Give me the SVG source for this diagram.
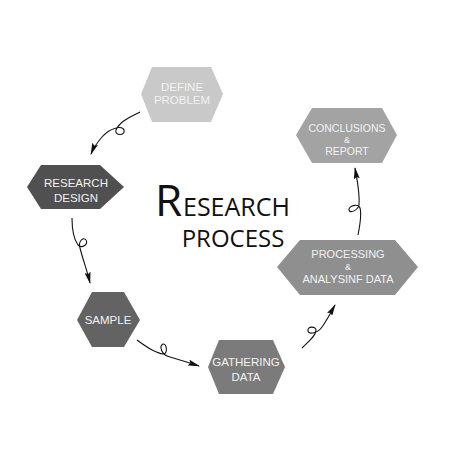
<svg xmlns="http://www.w3.org/2000/svg" width="450" height="450" viewBox="0 0 450 450">
<defs>
<marker id="arr" viewBox="0 0 12 6" refX="11" refY="3" markerWidth="12" markerHeight="6" markerUnits="userSpaceOnUse" orient="auto">
<path d="M0,0 L12,3 L0,6 L2,3 Z" fill="#111"/>
</marker>
<style>
.lbl{font-family:"Liberation Sans",Arial,sans-serif;font-size:11.5px;fill:#f2f2f2;text-anchor:middle}
.sm{font-size:9px}
.con{fill:none;stroke:#111;stroke-width:1.1;marker-end:url(#arr)}
.title{font-family:"Open Sans",sans-serif;fill:#111}
</style>
</defs>
<rect width="450" height="450" fill="#fff"/>
<g id="connectors">
<path class="con" d="M140,112 C130,117 120,121 116,130 C114,136 126,136 124,130 C122,125 110,128 102,137 C96,144 93,149 91,154"/>
<path class="con" d="M72,218 C72,228 73,238 78,245 C82,249 89,244 86,240 C83,236 78,242 80,248 C83,260 87,270 90,283"/>
<path class="con" d="M137,340 C145,346 155,353 163,354 C168,355 167,343 163,344 C159,346 161,355 170,357 C180,360 190,363 199,366"/>
<path class="con" d="M302,348 C308,342 316,336 316,330 C316,326 307,326 308,331 C309,335 318,333 322,327 C327,320 331,312 335,305"/>
<path class="con" d="M358,235 C360,225 362,215 360,208 C358,203 348,206 349,210 C350,214 358,210 359,205 C360,192 357,180 355,168"/>
</g>
<g id="define-problem">
<polygon points="152,67 211,67 223,94 211,122 152,122 141,94" fill="#c9c9c9"/>
<text class="lbl" x="182" y="91">DEFINE</text>
<text class="lbl" x="182" y="104">PROBLEM</text>
</g>
<g id="research-design">
<polygon points="41,165 100,165 124,187 100,209 41,209 27,187" fill="#505050"/>
<text class="lbl" x="76" y="187">RESEARCH</text>
<text class="lbl" x="76" y="202">DESIGN</text>
</g>
<g id="sample">
<polygon points="92,292 124,292 140,320 124,347 92,347 77,320" fill="#636363"/>
<text class="lbl" x="108" y="324">SAMPLE</text>
</g>
<g id="gathering-data">
<polygon points="219,340 273,340 285,367 273,394 219,394 208,367" fill="#7b7b7b"/>
<text class="lbl" x="246" y="366">GATHERING</text>
<text class="lbl" x="246" y="381">DATA</text>
</g>
<g id="processing">
<polygon points="300,240 395,240 418,267 395,295 300,295 277,267" fill="#8f8f8f"/>
<text class="lbl" x="348" y="258" style="font-size:11px">PROCESSING</text>
<text class="lbl sm" x="348" y="270">&amp;</text>
<text class="lbl" x="348" y="283" style="font-size:11px">ANALYSINF DATA</text>
</g>
<g id="conclusions">
<polygon points="312,108 382,108 397,135 382,163 312,163 296,135" fill="#a3a3a3"/>
<text class="lbl" x="347" y="132" style="font-size:10.5px">CONCLUSIONS</text>
<text class="lbl sm" x="347" y="143">&amp;</text>
<text class="lbl" x="347" y="155" style="font-size:10.5px">REPORT</text>
</g>
<g id="title">
<text class="title" x="155" y="216" style="font-size:44px">R</text>
<text class="title" x="183" y="216" style="font-size:25px">ESEARCH</text>
<text class="title" x="233" y="247" style="font-size:24px;text-anchor:middle">PROCESS</text>
</g>
</svg>
